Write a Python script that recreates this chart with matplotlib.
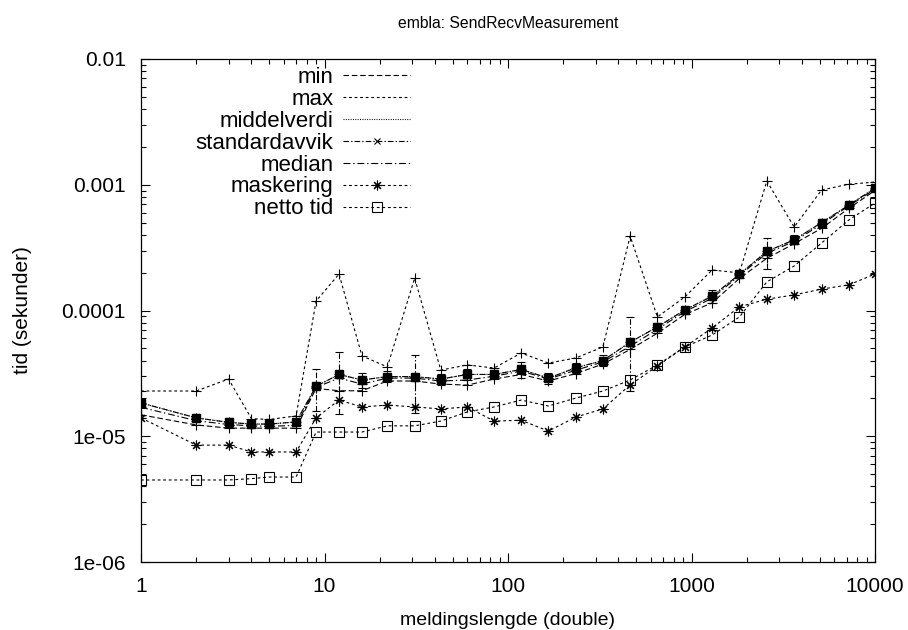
import matplotlib
matplotlib.use('Agg')
import matplotlib.pyplot as plt
from matplotlib.ticker import FixedLocator, FixedFormatter, LogLocator, NullFormatter

plt.rcParams['font.family'] = ['Liberation Sans', 'DejaVu Sans']
plt.rcParams['lines.scale_dashes'] = False

# message length (number of doubles)
lengths = [1, 2, 3, 4, 5, 7, 9, 12, 16, 22, 31, 43, 60, 84, 118, 166, 234, 329,
           463, 652, 919, 1295, 1825, 2573, 3627, 5114, 7210, 10000]

# times in seconds
min_t = [1.48e-5, 1.23e-5, 1.16e-5, 1.16e-5, 1.16e-5, 1.16e-5, 2.4e-5, 2.3e-5,
         2.3e-5, 2.75e-5, 2.75e-5, 2.6e-5, 2.55e-5, 2.85e-5, 3.1e-5, 2.75e-5,
         3.15e-5, 3.75e-5, 4.9e-5, 6.6e-5, 9.3e-5, 1.15e-4, 1.8e-4, 2.6e-4,
         3.4e-4, 4.5e-4, 6.5e-4, 9.0e-4]
max_t = [2.29e-5, 2.29e-5, 2.85e-5, 1.38e-5, 1.36e-5, 1.45e-5, 1.19e-4, 1.95e-4,
         4.35e-5, 3.56e-5, 1.81e-4, 3.36e-5, 3.69e-5, 3.49e-5, 4.59e-5, 3.82e-5,
         4.19e-5, 5.13e-5, 3.91e-4, 8.88e-5, 1.28e-4, 2.10e-4, 1.99e-4, 1.07e-3,
         4.61e-4, 9.08e-4, 1.01e-3, 1.05e-3]
mean_t = [1.84e-5, 1.40e-5, 1.29e-5, 1.25e-5, 1.25e-5, 1.30e-5, 2.5e-5, 3.1e-5,
          2.8e-5, 2.98e-5, 2.98e-5, 2.85e-5, 3.1e-5, 3.1e-5, 3.4e-5, 2.9e-5,
          3.5e-5, 4.0e-5, 5.6e-5, 7.4e-5, 1.01e-4, 1.3e-4, 1.94e-4, 2.95e-4,
          3.65e-4, 5.0e-4, 6.9e-4, 9.4e-4]
std_t = [0.15e-5, 0.1e-5, 0.1e-5, 0.08e-5, 0.08e-5, 0.08e-5, 0.9e-5, 1.6e-5,
         0.4e-5, 0.3e-5, 1.45e-5, 0.3e-5, 0.3e-5, 0.2e-5, 0.5e-5, 0.3e-5,
         0.3e-5, 0.4e-5, 3.3e-5, 0.5e-5, 0.6e-5, 1.5e-5, 0.8e-5, 0.8e-4,
         0.3e-4, 0.3e-4, 0.4e-4, 0.5e-4]
median_t = [1.7e-5, 1.33e-5, 1.24e-5, 1.21e-5, 1.2e-5, 1.22e-5, 2.45e-5, 2.9e-5,
            2.6e-5, 2.9e-5, 2.9e-5, 2.75e-5, 2.8e-5, 3.0e-5, 3.3e-5, 2.85e-5,
            3.35e-5, 3.9e-5, 5.2e-5, 7.1e-5, 9.8e-5, 1.25e-4, 1.9e-4, 2.85e-4,
            3.55e-4, 4.85e-4, 6.8e-4, 9.2e-4]
mask_t = [1.40e-5, 8.5e-6, 8.5e-6, 7.5e-6, 7.5e-6, 7.5e-6, 1.40e-5, 1.94e-5,
          1.71e-5, 1.77e-5, 1.71e-5, 1.65e-5, 1.71e-5, 1.32e-5, 1.34e-5, 1.10e-5,
          1.42e-5, 1.65e-5, 2.56e-5, 3.62e-5, 5.13e-5, 7.26e-5, 1.07e-4, 1.23e-4,
          1.33e-4, 1.48e-4, 1.60e-4, 1.95e-4]
netto_t = [4.49e-6, 4.49e-6, 4.49e-6, 4.6e-6, 4.74e-6, 4.74e-6, 1.08e-5, 1.08e-5,
           1.08e-5, 1.21e-5, 1.21e-5, 1.32e-5, 1.56e-5, 1.71e-5, 1.94e-5, 1.74e-5,
           2.01e-5, 2.29e-5, 2.80e-5, 3.69e-5, 5.13e-5, 6.38e-5, 8.88e-5, 1.69e-4,
           2.26e-4, 3.44e-4, 5.25e-4, 7.16e-4]

x_ticks = [1, 10, 100, 1000, 10000]
x_labels = ['1', '10', '100', '1000', '10000']
y_ticks = [1e-6, 1e-5, 1e-4, 1e-3, 1e-2]
y_labels = ['1e-06', '1e-05', '0.0001', '0.001', '0.01']

fig = plt.figure(figsize=(9.08, 6.3), dpi=100)
ax = fig.add_axes([141 / 908, 1 - 562 / 630, 734 / 908, 503 / 630])

lw = 0.8
h_min, = ax.plot(lengths, min_t, color='k', lw=lw, dashes=(4, 2))
h_max, = ax.plot(lengths, max_t, color='k', lw=lw, dashes=(2, 2))
h_mean, = ax.plot(lengths, mean_t, color='k', lw=lw, dashes=(0.7, 1))
h_std, = ax.plot(lengths, mean_t, color='k', lw=lw, dashes=(4, 1.5, 1, 1.5),
                 marker='x', ms=5, mew=lw)
eb = ax.errorbar(lengths, mean_t, yerr=std_t, fmt='none', ecolor='k',
                 elinewidth=lw, capsize=3, capthick=lw)
eb[2][0].set_linestyle((0, (4, 1.5, 1, 1.5)))
h_med, = ax.plot(lengths, median_t, color='k', lw=lw, dashes=(5, 2, 1, 2))
h_mask, = ax.plot(lengths, mask_t, color='k', lw=lw, dashes=(2, 2),
                  marker=(8, 2, 0), ms=7, mew=lw)
h_net, = ax.plot(lengths, netto_t, color='k', lw=lw, dashes=(2, 2),
                 marker='s', ms=6.5, mfc='none', mew=lw)

# raw sample markers (the '+' stacks) and the dense block around the mean
for ser in (min_t, max_t, mean_t, median_t):
    ax.plot(lengths, ser, ls='none', marker='+', ms=7, mew=lw, color='k')
ax.plot(lengths, mean_t, ls='none', marker='s', ms=5.5, color='k')

ax.set_xscale('log')
ax.set_yscale('log')
ax.set_xlim(1, 10000)
ax.set_ylim(1e-6, 1e-2)

ax.xaxis.set_major_locator(FixedLocator(x_ticks))
ax.xaxis.set_major_formatter(FixedFormatter(x_labels))
ax.yaxis.set_major_locator(FixedLocator(y_ticks))
ax.yaxis.set_major_formatter(FixedFormatter(y_labels))
ax.xaxis.set_minor_locator(LogLocator(base=10, subs=range(2, 10)))
ax.yaxis.set_minor_locator(LogLocator(base=10, subs=range(2, 10)))
ax.xaxis.set_minor_formatter(NullFormatter())
ax.yaxis.set_minor_formatter(NullFormatter())

ax.tick_params(which='both', direction='in', top=True, right=True, width=0.8)
ax.tick_params(which='major', length=6.5, labelsize=15)
ax.tick_params(which='minor', length=3.5)
ax.tick_params(axis='y', pad=11)
ax.tick_params(axis='x', pad=11)
for s in ax.spines.values():
    s.set_linewidth(0.9)

ax.set_title('embla: SendRecvMeasurement', fontsize=11.3, pad=22)
ax.set_xlabel('meldingslengde (double)', fontsize=14, labelpad=11)
ax.set_ylabel('tid (sekunder)', fontsize=15, labelpad=21)

leg = ax.legend([h_min, h_max, h_mean, h_std, h_med, h_mask, h_net],
                ['min', 'max', 'middelverdi', 'standardavvik', 'median',
                 'maskering', 'netto tid'],
                loc='upper right', bbox_to_anchor=(0.3665, 0.984),
                frameon=False, markerfirst=False, fontsize=16,
                handlelength=3.0, handletextpad=0.45, labelspacing=0.04,
                borderpad=0, borderaxespad=0, numpoints=1)
for col in leg._legend_handle_box.get_children():
    col.align = 'right'

fig.savefig('out.png', dpi=100)
